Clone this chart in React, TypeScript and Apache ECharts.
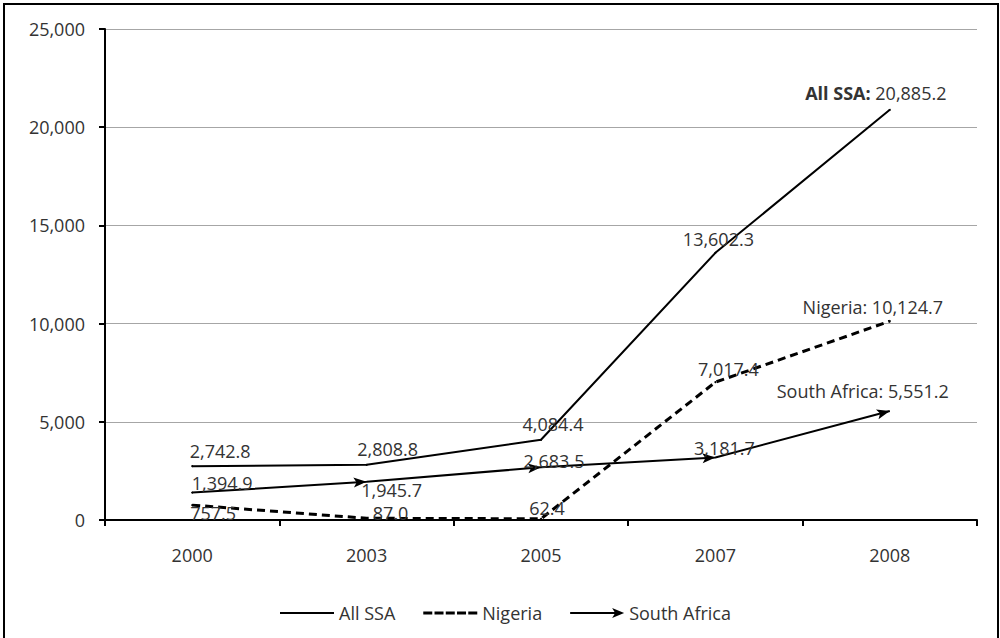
import React, { useEffect, useRef } from 'react';
import * as echarts from 'echarts';

const years = ['2000', '2003', '2005', '2007', '2008'];
const allSSA = [2742.8, 2808.8, 4084.4, 13602.3, 20885.2];
const nigeria = [757.5, 87.0, 62.4, 7017.4, 10124.7];
const southAfrica = [1394.9, 1945.7, 2683.5, 3181.7, 5551.2];
const seriesNames = ['All SSA', 'Nigeria', 'South Africa'];
const yMin = 0;
const yMax = 25000;
const yStep = 5000;

// label placement (style, in pixels relative to each point)
const allOffsets = [[28, -15], [21, -16], [12, -16], [3, -14], [-14, -17]];
const nigOffsets = [[21, 8], [24, -5], [6, -11], [13, -13], [-17, -14]];
const saOffsets = [[30, -10], [25, 8], [13, -6], [9, -10], [-27, -20]];

const FONT = 'Open Sans';
const TXT = '#333333';

const fmt = (v: number) =>
  v.toLocaleString('en-US', { minimumFractionDigits: 1, maximumFractionDigits: 1 });

const ARROW =
  'path://M5,0 L5.05,0 L5,0.05 Z M5,13 L10,26 L5,23 L0,26 Z';

const LEG_ALL = 'path://M0,0 L0.05,0 L0,0.05 Z M0,10 L0.05,10 L0,9.95 Z M0,4 L54,4 L54,6 L0,6 Z';
const LEG_NIG =
  'path://M0,0 L0.05,0 L0,0.05 Z M0,10 L0.05,10 L0,9.95 Z ' +
  'M0,3.5 L9,3.5 L9,6.5 L0,6.5 Z M11.25,3.5 L20.25,3.5 L20.25,6.5 L11.25,6.5 Z ' +
  'M22.5,3.5 L31.5,3.5 L31.5,6.5 L22.5,6.5 Z M33.75,3.5 L42.75,3.5 L42.75,6.5 L33.75,6.5 Z ' +
  'M45,3.5 L54,3.5 L54,6.5 L45,6.5 Z';
const LEG_SA =
  'path://M0,4 L46,4 L46,6 L0,6 Z M42,0 L54,5 L42,10 L45,5 Z';

function buildOption(rotations: number[]) {
  const labelBase = {
    show: true,
    position: 'inside',
    color: TXT,
    fontSize: 18,
    lineHeight: 18,
    fontFamily: FONT,
    rich: { b: { fontWeight: 'bold', fontSize: 18, lineHeight: 18, fontFamily: FONT, color: TXT } },
  };
  const allData = allSSA.map((v, i) => ({
    value: v,
    label: {
      offset: allOffsets[i],
      formatter: i === allSSA.length - 1 ? `{b|${seriesNames[0]}:} ${fmt(v)}` : fmt(v),
    },
  }));
  const nigData = nigeria.map((v, i) => ({
    value: v,
    label: {
      offset: nigOffsets[i],
      formatter: i === nigeria.length - 1 ? `${seriesNames[1]}: ${fmt(v)}` : fmt(v),
    },
  }));
  const saData = southAfrica.map((v, i) => ({
    value: v,
    symbol: i === 0 ? 'circle' : ARROW,
    symbolSize: i === 0 ? 2 : [10, 26],
    symbolRotate: i === 0 ? 0 : rotations[i] || 0,
    label: {
      offset: saOffsets[i],
      formatter: i === southAfrica.length - 1 ? `${seriesNames[2]}: ${fmt(v)}` : fmt(v),
    },
  }));

  return {
    animation: false,
    backgroundColor: '#ffffff',
    textStyle: { fontFamily: FONT },
    grid: { left: 105, right: 23, top: 29, bottom: 118, containLabel: false },
    legend: {
      left: 275,
      top: 599,
      itemWidth: 54,
      itemHeight: 10,
      itemGap: 28,
      symbolKeepAspect: false,
      selectedMode: false,
      itemStyle: { borderWidth: 0 },
      textStyle: { fontSize: 18, color: TXT, fontFamily: FONT },
      data: [
        { name: seriesNames[0], icon: LEG_ALL },
        { name: seriesNames[1], icon: LEG_NIG },
        { name: seriesNames[2], icon: LEG_SA },
      ],
    },
    xAxis: {
      type: 'category',
      data: years,
      boundaryGap: true,
      axisLine: { show: true, lineStyle: { color: '#000', width: 2 } },
      axisTick: { show: true, length: 6, lineStyle: { color: '#000', width: 2 } },
      axisLabel: { margin: 26, fontSize: 18, color: TXT, fontFamily: FONT },
      splitLine: { show: false },
    },
    yAxis: {
      type: 'value',
      min: yMin,
      max: yMax,
      interval: yStep,
      axisLine: { show: true, lineStyle: { color: '#000', width: 2 } },
      axisTick: { show: true, length: 6, lineStyle: { color: '#000', width: 2 } },
      axisLabel: {
        margin: 20,
        fontSize: 18,
        color: TXT,
        fontFamily: FONT,
        formatter: (v: number) => v.toLocaleString('en-US'),
      },
      splitLine: { show: true, lineStyle: { color: '#a6a6a6', width: 1 } },
    },
    graphic: [
      {
        type: 'rect',
        silent: true,
        z: 100,
        shape: { x: 4, y: 4, width: 994, height: 660 },
        style: { fill: 'none', stroke: '#000', lineWidth: 2 },
      },
    ],
    series: [
      {
        name: seriesNames[0],
        type: 'line',
        data: allData,
        symbol: 'circle',
        symbolSize: 2,
        color: '#000',
        lineStyle: { color: '#000', width: 2 },
        itemStyle: { color: '#000', borderWidth: 0 },
        label: labelBase,
        z: 3,
      },
      {
        name: seriesNames[1],
        type: 'line',
        data: nigData,
        symbol: 'circle',
        symbolSize: 2,
        color: '#000',
        lineStyle: { color: '#000', width: 3, type: [8, 5] },
        itemStyle: { color: '#000', borderWidth: 0 },
        label: labelBase,
        z: 3,
      },
      {
        name: seriesNames[2],
        type: 'line',
        data: saData,
        color: '#000',
        lineStyle: { color: '#000', width: 2 },
        itemStyle: { color: '#000', borderWidth: 0 },
        label: labelBase,
        z: 3,
      },
    ],
  };
}

export default function App() {
  const ref = useRef<HTMLDivElement>(null);
  useEffect(() => {
    document.body.style.margin = '0';
    if (!ref.current) return;
    const chart = echarts.init(ref.current, null, { renderer: 'svg' });
    chart.setOption(buildOption([]) as any);
    const pts = southAfrica.map((v, i) => chart.convertToPixel({ gridIndex: 0 }, [i, v]) as number[]);
    const rotations = pts.map((p, i) => {
      if (i === 0) return 0;
      const dx = p[0] - pts[i - 1][0];
      const dy = p[1] - pts[i - 1][1];
      const theta = (Math.atan2(-dy, dx) * 180) / Math.PI;
      return theta - 90;
    });
    chart.setOption(buildOption(rotations) as any, true);
    return () => chart.dispose();
  }, []);
  return <div ref={ref} style={{ width: 1000, height: 638 }} />;
}
